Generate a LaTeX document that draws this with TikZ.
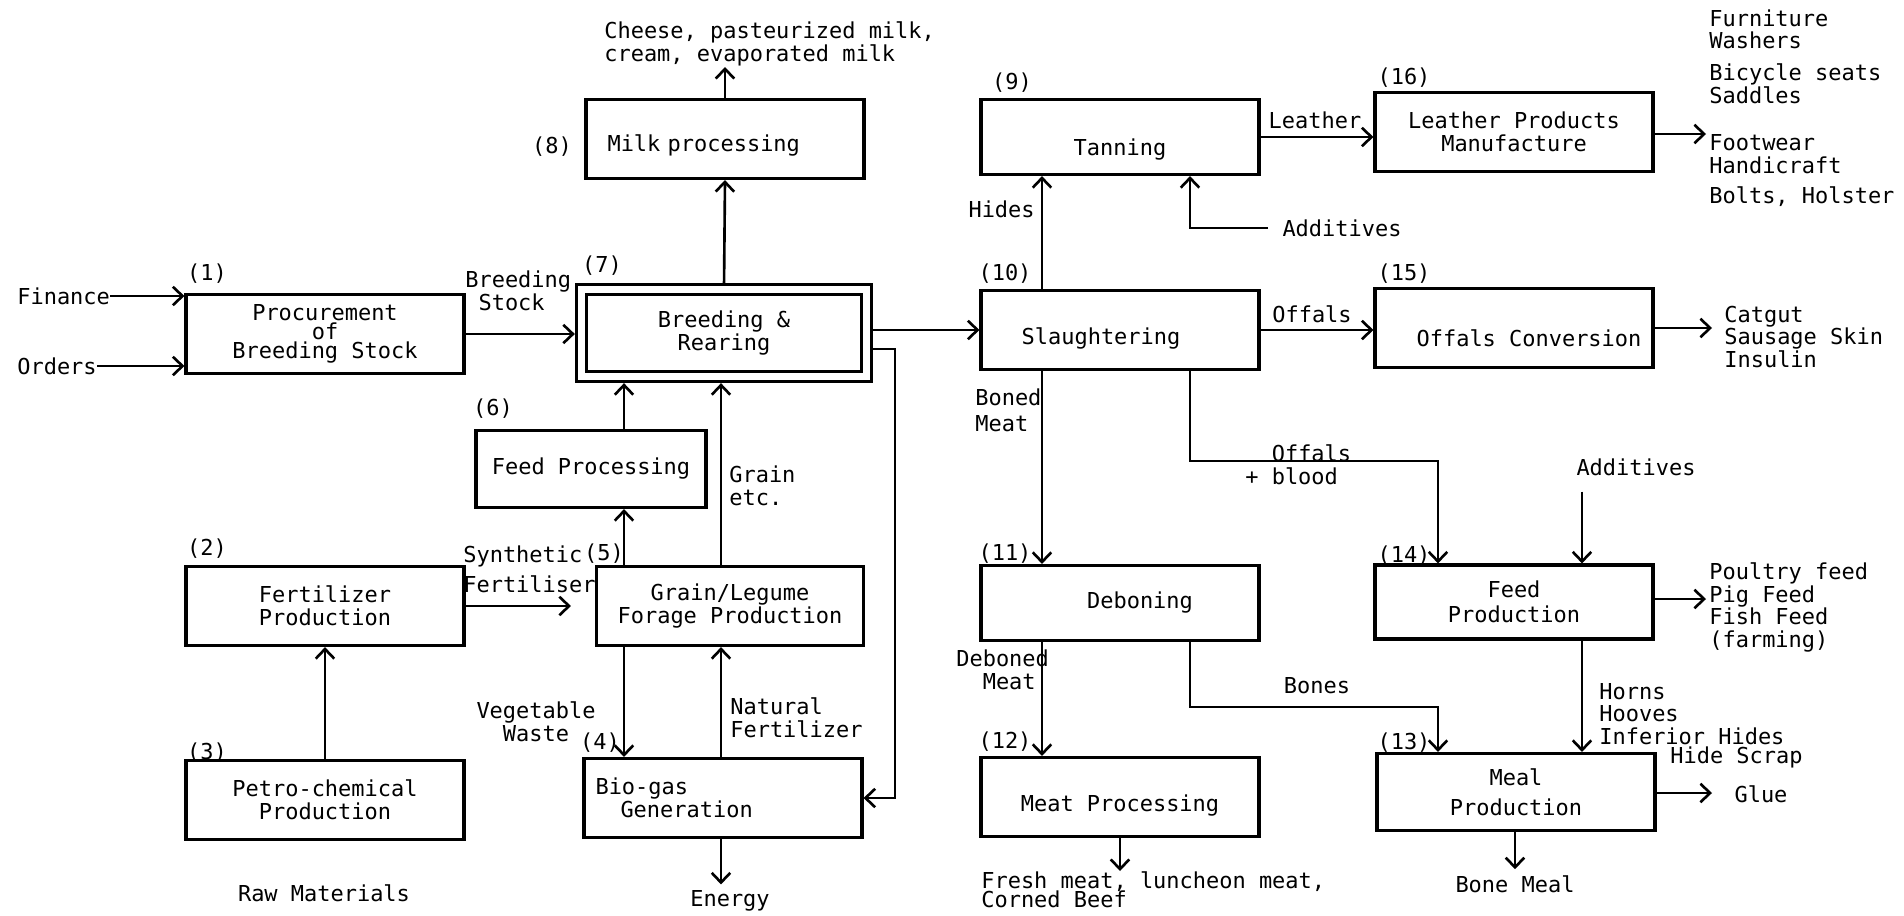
\documentclass[tikz,border=0pt]{standalone}
\usepackage{fontspec}
\setmonofont{DejaVu Sans Mono}
\usetikzlibrary{arrows.meta}
\begin{document}
\begin{tikzpicture}[x=0.02cm, y=-0.02cm,
  font=\ttfamily\fontsize{12.5}{13}\selectfont,
  box/.style={draw, line width=1.8pt, minimum width=5.56cm, minimum height=1.58cm, inner sep=0pt, align=center},
  drop/.style={text height=#1, text depth=0pt},
  txt/.style={inner sep=0pt, align=left},
  flow/.style={line width=1.5pt, -{Straight Barb[length=5.5pt, width=10.5pt, line width=1.5pt]}},
  todbl/.style={shorten >=2.9pt}]
  \useasboundingbox (0,0) rectangle (1904,916);

  % columns used by the vertical connectors
  \coordinate (xa) at (624,0);
  \coordinate (xb) at (721,0);
  \coordinate (xd) at (1042,0);
  \coordinate (xe) at (1190,0);
  \coordinate (xg) at (1582,0);

  \node[box] (proc) at (325,334) {Procurement\\[-2pt]of\\[-2pt]Breeding Stock};
  \node[box, minimum width=5.7cm, minimum height=1.74cm, double, double distance=4pt] (breed) at (724,333) {Breeding \&\\Rearing};
  \node[box, text width=4.7cm, align=left, drop=0.52cm] (milk) at (725,139) {Milk processing};
  \node[box, minimum width=4.6cm, minimum height=1.54cm] (fp) at (591,469) {Feed Processing};
  \node[box, minimum width=5.34cm] (gl) at (730,606) {Grain/Legume\\Forage Production};
  \node[box] (fert) at (325,606) {Fertilizer\\Production};
  \node[box] (petro) at (325,800) {Petro-chemical\\Production};
  \node[box, text width=5.1cm, align=left] (bio) at (723,798) {Bio-gas\\\hspace*{0.5cm}Generation};

  \node[box, minimum height=1.5cm, drop=0.76cm] (tan) at (1120,137) {Tanning};
  \node[box] (leath) at (1514,132) {Leather Products\\Manufacture};
  \node[box, drop=0.56cm] (slau) at (1120,330) {Slaughtering\hspace*{0.76cm}};
  \node[box, drop=0.72cm] (offc) at (1514,328) {\hspace*{0.6cm}Offals Conversion};
  \node[box, minimum height=1.5cm] (debo) at (1120,603) {\hspace*{0.8cm}Deboning};
  \node[box, minimum height=1.48cm] (feedp) at (1514,602) {Feed\\[1pt]Production};
  \node[box, drop=0.56cm] (meatp) at (1120,797) {Meat Processing};
  \node[box, minimum height=1.54cm] (meal) at (1516,792) {Meal\\[4pt]Production};

  \node at (207,274) {(1)};
  \node at (207,549) {(2)};
  \node at (207,753) {(3)};
  \node at (600,743) {(4)};
  \node at (604,554) {(5)};
  \node at (493,409) {(6)};
  \node at (602,266) {(7)};
  \node at (552,147) {(8)};
  \node at (1012,83) {(9)};
  \node at (1005,274) {(10)};
  \node at (1005,554) {(11)};
  \node at (1005,742) {(12)};
  \node at (1404,743) {(13)};
  \node at (1404,556) {(14)};
  \node at (1404,274) {(15)};
  \node at (1404,78) {(16)};

  \node[txt, anchor=west] (fin) at (17,296) {Finance};
  \node[txt, anchor=west] (ord) at (17,366) {Orders};
  \draw[flow] (fin.east) -- (fin.east -| proc.west);
  \draw[flow] (ord.east) -- (ord.east -| proc.west);

  \draw[flow, todbl] (proc.east) -- (proc.east -| breed.west);
  \node[txt, anchor=west] at (465,291) {Breeding\\\ Stock};

  \coordinate (milkout) at (725,67);
  \draw[flow, shorten <=2.9pt] (breed.north) -- (milk.south);
  \draw[flow] (milk.north) -- (milkout);
  \node[txt, anchor=west] at (604,44) {Cheese, pasteurized milk,\\cream, evaporated milk};

  \draw[flow, todbl] (fp.north -| xa) -- (breed.south -| xa);
  \draw[flow] (gl.north -| xa) -- (fp.south -| xa);
  \draw[flow, todbl] (gl.north -| xb) -- (breed.south -| xb);
  \node[txt, anchor=west] at (729,486) {Grain\\etc.};

  \draw[flow, shorten >=0.48cm] (fert.east) -- (fert.east -| gl.west);
  \node[txt, anchor=west] at (463,569) {Synthetic\\[4pt]Fertiliser};

  \draw[flow] (petro.north) -- (fert.south);

  \draw[flow] (gl.south -| xa) -- (bio.north -| xa);
  \node[align=center, inner sep=0pt] at (536,722) {Vegetable\\Waste};
  \draw[flow] (bio.north -| xb) -- (gl.south -| xb);
  \node[txt, anchor=west] at (730,718) {Natural\\Fertilizer};

  \node (energy) at (730,901) {Energy};
  \draw[flow] (bio.south -| xb) -- (energy.north -| xb);

  \coordinate (bend7) at (895,349);
  \draw[flow, shorten <=2.9pt] (breed.east |- bend7) -- (bend7) |- (bio.east);
  \draw[flow, shorten <=2.9pt] (breed.east |- slau.west) -- (slau.west);

  \node (raw) at (324,893) {Raw Materials};

  \draw[flow] (slau.north -| xd) -- (tan.south -| xd);
  \node[txt, anchor=east] at (1035,209) {Hides};
  \node[txt] (add1) at (1342,228) {Additives};
  \draw[flow, shorten <=0.28cm] (add1.west) -- (add1.west -| xe) -- (tan.south -| xe);

  \draw[flow] (tan.east) -- (tan.east -| leath.west);
  \node at (1315,120) {Leather};
  \coordinate (o16) at (1706,134);
  \draw[flow] (leath.east |- o16) -- (o16);
  \node[txt, anchor=north west] at (1709,9) {Furniture\\Washers\\[5pt]Bicycle seats\\Saddles\\[14pt]Footwear\\Handicraft\\[4pt]Bolts, Holster};

  \draw[flow] (slau.east) -- (slau.east -| offc.west);
  \node at (1312,314) {Offals};
  \coordinate (o15) at (1712,328);
  \draw[flow] (offc.east |- o15) -- (o15);
  \node[txt, anchor=west] at (1724,337) {Catgut\\Sausage Skin\\Insulin};

  \draw[flow] (slau.south -| xd) -- (debo.north -| xd);
  \node[txt, anchor=west] at (975,410) {Boned\\[2pt]Meat};

  \coordinate (c14) at (1438,461);
  \draw[flow] (slau.south -| xe) |- (c14) -- (feedp.north -| c14);
  \node[txt, anchor=west] at (1245,465) {\ \ Offals\\+ blood};

  \node (add2) at (1636,467) {Additives};
  \draw[flow, shorten <=0.2cm] (add2.south -| xg) -- (feedp.north -| xg);

  \coordinate (o14) at (1706,599);
  \draw[flow] (feedp.east |- o14) -- (o14);
  \node[txt, anchor=north west] at (1709,562) {Poultry feed\\Pig Feed\\Fish Feed\\(farming)};

  \draw[flow] (debo.south -| xd) -- (meatp.north -| xd);
  \node[txt, anchor=west] at (956,670) {Deboned\\\ \ Meat};

  \coordinate (c13) at (1438,707);
  \draw[flow] (debo.south -| xe) |- (c13) -- (meal.north -| c13);
  \node at (1317,686) {Bones};

  \draw[flow] (feedp.south -| xg) -- (meal.north -| xg);
  \node[txt, anchor=west] at (1599,714) {Horns\\Hooves\\Inferior Hides};
  \node[txt, anchor=west] at (1670,757) {Hide Scrap};

  \coordinate (o13) at (1712,793);
  \draw[flow] (meal.east |- o13) -- (o13);
  \node at (1761,794) {Glue};

  \node (bm) at (1515,884) {Bone Meal};
  \draw[flow] (meal.south -| bm.north) -- (bm.north);

  \node[txt, anchor=north west] (fresh) at (981,871) {Fresh meat, luncheon meat,\\[-2pt]Corned Beef};
  \draw[flow] (meatp.south) -- (meatp.south |- fresh.north);
\end{tikzpicture}
\end{document}
